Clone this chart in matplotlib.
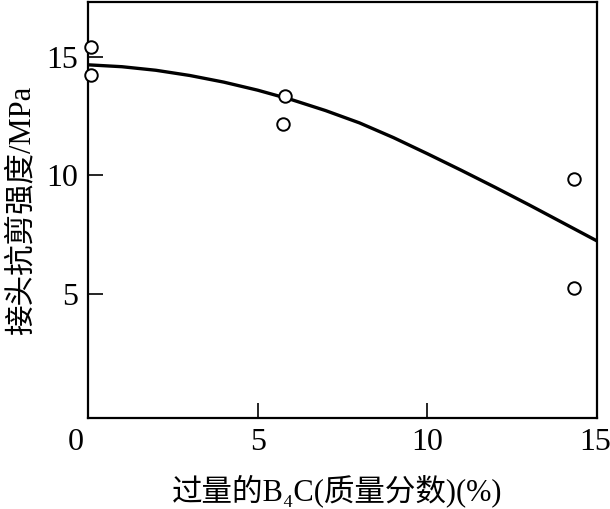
import matplotlib
matplotlib.use("Agg")
import matplotlib.pyplot as plt
import matplotlib.transforms as mtransforms

# Data
pts_x = [0.1, 0.1, 5.82, 5.76, 14.33, 14.33]
pts_y = [15.39, 14.23, 13.35, 12.16, 9.82, 5.22]

curve_x = [0, 1, 2, 3, 4, 5, 6, 7, 8, 9, 10, 11, 12, 13, 14, 15]
curve_y = [14.65, 14.57, 14.42, 14.2, 13.92, 13.58, 13.18, 12.72, 12.2, 11.58, 10.9, 10.2, 9.48, 8.74, 7.98, 7.22]

xticks = [0, 5, 10, 15]
yticks = [5, 10, 15]

xlabel = "过量的B\u2084C(质量分数)(%)"
ylabel = "接头抗剪强度/MPa"

plt.rcParams['font.family'] = ['Liberation Serif', 'Noto Sans CJK SC', 'DejaVu Sans']

fig = plt.figure(figsize=(6.10, 5.09), dpi=100)
ax = fig.add_axes([88/610, 1-418/509, (597-88)/610, (418-2)/509])

ax.plot(curve_x, curve_y, color='black', lw=2.4, solid_capstyle='butt')
ax.plot(pts_x, pts_y, linestyle='none', marker='o', markersize=9,
        markerfacecolor='white', markeredgecolor='black', markeredgewidth=1.4,
        clip_on=False, zorder=3)

ax.set_xlim(0, 15)
ax.set_ylim(-0.25, 17.3)
ax.set_xticks(xticks)
ax.set_xticklabels([str(t) for t in xticks])
ax.set_yticks(yticks)
ax.set_yticklabels([str(t) for t in yticks])

for s in ax.spines.values():
    s.set_linewidth(1.6)

ax.tick_params(axis='both', direction='in', length=11, width=1.2,
               labelsize=23, top=False, right=False)
ax.tick_params(axis='x', pad=7)
ax.tick_params(axis='y', pad=7)

# shift the "0" label left and the "15" label slightly left as in the reference
xl = ax.get_xticklabels()
xl[0].set_transform(xl[0].get_transform() + mtransforms.ScaledTranslation(-12/100, 0, fig.dpi_scale_trans))
xl[-1].set_transform(xl[-1].get_transform() + mtransforms.ScaledTranslation(-2/100, 0, fig.dpi_scale_trans))

ax.set_xlabel(xlabel, fontsize=22)
ax.xaxis.set_label_coords(0.49, -0.135)
ax.set_ylabel(ylabel, fontsize=22)
ax.yaxis.set_label_coords(-0.10, 0.5)

fig.savefig("out.png", dpi=100)
